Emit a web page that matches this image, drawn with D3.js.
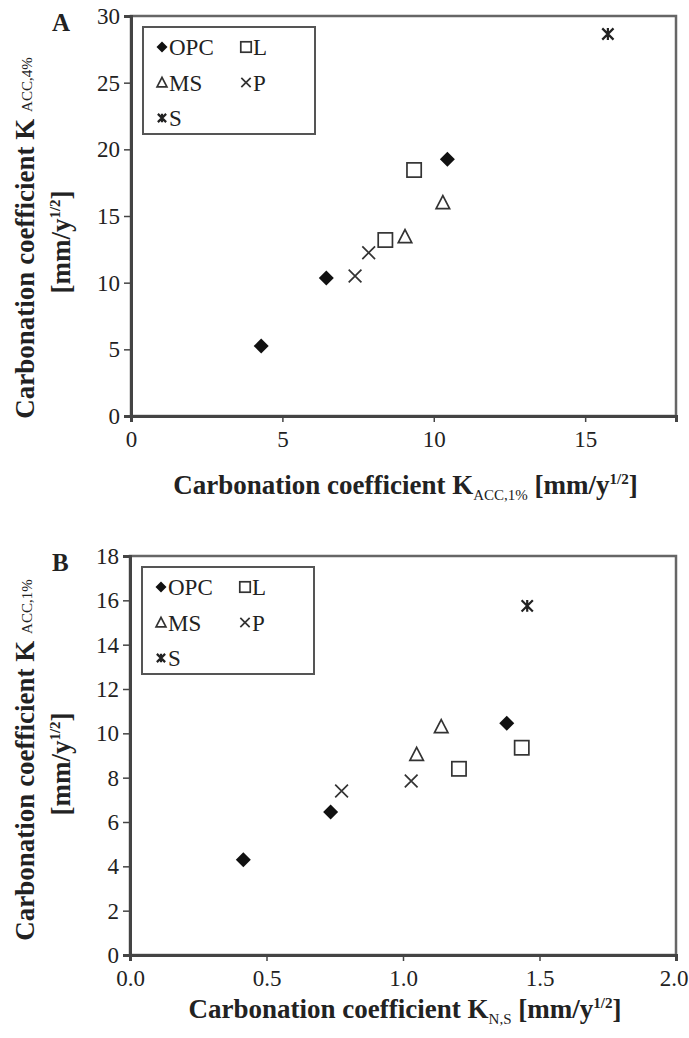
<!DOCTYPE html>
<html>
<head>
<meta charset="utf-8">
<script src="https://cdn.jsdelivr.net/npm/d3@7"></script>
<style>
  body { margin: 0; background: #fff; }
  svg text { font-family: "Liberation Serif", "DejaVu Serif", serif; fill: #222; }
</style>
</head>
<body>
<div id="chart"></div>
<script>
// Panel A data: x = K ACC,1%, y = K ACC,4%
const aOPC = [[4.3, 5.25], [6.45, 10.35], [10.45, 19.25]];
const aL = [[8.4, 13.2], [9.35, 18.45]];
const aMS = [[9.05, 13.45], [10.3, 16.0]];
const aP = [[7.4, 10.5], [7.85, 12.25]];
const aS = [[15.75, 28.65]];

// Panel B data: x = K N,S, y = K ACC,1%
const bOPC = [[0.415, 4.3], [0.735, 6.45], [1.38, 10.45]];
const bL = [[1.205, 8.4], [1.435, 9.35]];
const bMS = [[1.05, 9.05], [1.14, 10.3]];
const bP = [[0.775, 7.4], [1.03, 7.85]];
const bS = [[1.455, 15.75]];

const seriesNames = ["OPC", "L", "MS", "P", "S"];

const aXTicks = [0, 5, 10, 15];
const aYTicks = [0, 5, 10, 15, 20, 25, 30];
const bXTicks = [0, 0.5, 1.0, 1.5, 2.0];
const bYTicks = [0, 2, 4, 6, 8, 10, 12, 14, 16, 18];

const W = 689, H = 1038;
const svg = d3.select("#chart").append("svg")
    .attr("width", W)
    .attr("height", H);

// marker shapes
function drawMarker(g, name, size) {
    const s = size / 2;
    if (name === "OPC") {
        g.append("path")
            .attr("d", `M0,${-s}L${s},0L0,${s}L${-s},0Z`)
            .attr("fill", "#111");
    } else if (name === "L") {
        g.append("rect")
            .attr("x", -s * 0.95).attr("y", -s * 0.95)
            .attr("width", s * 1.9).attr("height", s * 1.9)
            .attr("fill", "none").attr("stroke", "#333").attr("stroke-width", 1.7);
    } else if (name === "MS") {
        g.append("path")
            .attr("d", `M0,${-s * 0.95}L${s * 0.9},${s * 0.8}L${-s * 0.9},${s * 0.8}Z`)
            .attr("fill", "none").attr("stroke", "#333").attr("stroke-width", 1.7);
    } else if (name === "P") {
        const r = s * 0.85;
        g.append("path")
            .attr("d", `M${-r},${-r}L${r},${r}M${-r},${r}L${r},${-r}`)
            .attr("stroke", "#333").attr("stroke-width", 1.7);
    } else if (name === "S") {
        const r = s * 0.75;
        g.append("path")
            .attr("d", `M${-r},${-r}L${r},${r}M${-r},${r}L${r},${-r}M0,${-r * 1.05}L0,${r * 1.05}`)
            .attr("stroke", "#222").attr("stroke-width", 2.2);
    }
}

function drawPanel(cfg) {
    const x = d3.scaleLinear().domain(cfg.xDomain).range([cfg.left, cfg.right]);
    const y = d3.scaleLinear().domain(cfg.yDomain).range([cfg.bottom, cfg.top]);

    const g = svg.append("g").attr("class", "chart-group");

    // frame (top / right)
    g.append("rect")
        .attr("x", cfg.left).attr("y", cfg.top)
        .attr("width", cfg.right - cfg.left).attr("height", cfg.bottom - cfg.top)
        .attr("fill", "none").attr("stroke", "#666").attr("stroke-width", 2.5);

    // y axis
    const yAxis = g.append("g")
        .attr("transform", `translate(${cfg.left},0)`)
        .call(d3.axisLeft(y).tickValues(cfg.yTicks).tickSize(7).tickPadding(4).tickFormat(cfg.yFormat));
    // x axis
    const xAxis = g.append("g")
        .attr("transform", `translate(0,${cfg.bottom})`)
        .call(d3.axisBottom(x).tickValues(cfg.xTicks).tickSize(6).tickPadding(9).tickFormat(cfg.xFormat));

    [yAxis, xAxis].forEach(ax => {
        ax.select(".domain").attr("stroke", "#444").attr("stroke-width", 3);
        ax.selectAll(".tick line").attr("stroke", "#444").attr("stroke-width", 1.5);
        ax.selectAll(".tick text")
            .attr("font-family", "Liberation Serif, serif")
            .attr("font-size", 23)
            .attr("fill", "#444");
    });
    // keep the last x label inside the picture
    xAxis.selectAll(".tick text").filter((d, i, n) => i === n.length - 1 && x(d) > W - 20)
        .attr("text-anchor", "end").attr("dx", 12);

    // points
    cfg.series.forEach((pts, i) => {
        pts.forEach(p => {
            const m = g.append("g").attr("transform", `translate(${x(p[0])},${y(p[1])})`);
            drawMarker(m, seriesNames[i], 15);
        });
    });

    // legend
    const lg = g.append("g").attr("transform", `translate(${cfg.left + 12},${cfg.top + 11})`);
    lg.append("rect")
        .attr("width", 172).attr("height", 107)
        .attr("fill", "#fff").attr("stroke", "#555").attr("stroke-width", 2);
    const legPos = [[0, 0], [1, 0], [0, 1], [1, 1], [0, 2]];
    seriesNames.forEach((name, i) => {
        const [cx, cy] = legPos[i];
        const ex = 19 + cx * 84, ey = 20 + cy * 35.5;
        const m = lg.append("g").attr("transform", `translate(${ex},${ey})`);
        drawMarker(m, name, 11);
        lg.append("text")
            .attr("x", ex + 7)
            .attr("y", ey + 8)
            .attr("font-size", 23)
            .text(name);
    });

    // panel label
    g.append("text")
        .attr("x", 52).attr("y", cfg.top + 15)
        .attr("font-size", 25).attr("font-weight", "bold")
        .text(cfg.label);

    // x axis title
    const xt = g.append("text")
        .attr("class", "x-axis-label")
        .attr("x", (cfg.left + cfg.right) / 2 + 2)
        .attr("y", cfg.xTitleY)
        .attr("text-anchor", "middle")
        .attr("font-size", 27).attr("font-weight", "bold");
    xt.append("tspan").text("Carbonation coefficient K");
    xt.append("tspan").attr("dy", 6).attr("font-size", 15).attr("font-weight", "normal").text(cfg.xSub);
    xt.append("tspan").attr("dy", -6).text(" [mm/y");
    xt.append("tspan").attr("dy", -10).attr("font-size", 15).text("1/2");
    xt.append("tspan").attr("dy", 10).text("]");

    // y axis title, two lines
    const yc = cfg.yTitleCenter;
    const yt = g.append("text")
        .attr("class", "y-axis-label")
        .attr("transform", `translate(34,${yc}) rotate(-90)`)
        .attr("text-anchor", "middle")
        .attr("font-size", 27).attr("font-weight", "bold");
    yt.append("tspan").text("Carbonation coefficient K ");
    yt.append("tspan").attr("dy", -2).attr("font-size", 15).attr("font-weight", "normal").text(cfg.ySub);

    const yt2 = g.append("text")
        .attr("transform", `translate(70,${yc + 4}) rotate(-90)`)
        .attr("text-anchor", "middle")
        .attr("font-size", 27).attr("font-weight", "bold");
    yt2.append("tspan").text("[mm/y");
    yt2.append("tspan").attr("dy", -10).attr("font-size", 15).text("1/2");
    yt2.append("tspan").attr("dy", 10).text("]");
}

drawPanel({
    label: "A",
    left: 131, right: 676, top: 16, bottom: 416,
    xDomain: [0, 18], yDomain: [0, 30],
    xTicks: aXTicks, yTicks: aYTicks,
    xFormat: d3.format("d"), yFormat: d3.format("d"),
    series: [aOPC, aL, aMS, aP, aS],
    xSub: "ACC,1%", ySub: "ACC,4%",
    yTitleCenter: 238, xTitleY: 494
});

drawPanel({
    label: "B",
    left: 130, right: 676, top: 556, bottom: 955,
    xDomain: [0, 2], yDomain: [0, 18],
    xTicks: bXTicks, yTicks: bYTicks,
    xFormat: d3.format(".1f"), yFormat: d3.format("d"),
    series: [bOPC, bL, bMS, bP, bS],
    xSub: "N,S", ySub: "ACC,1%",
    yTitleCenter: 760, xTitleY: 1018
});
</script>
</body>
</html>
